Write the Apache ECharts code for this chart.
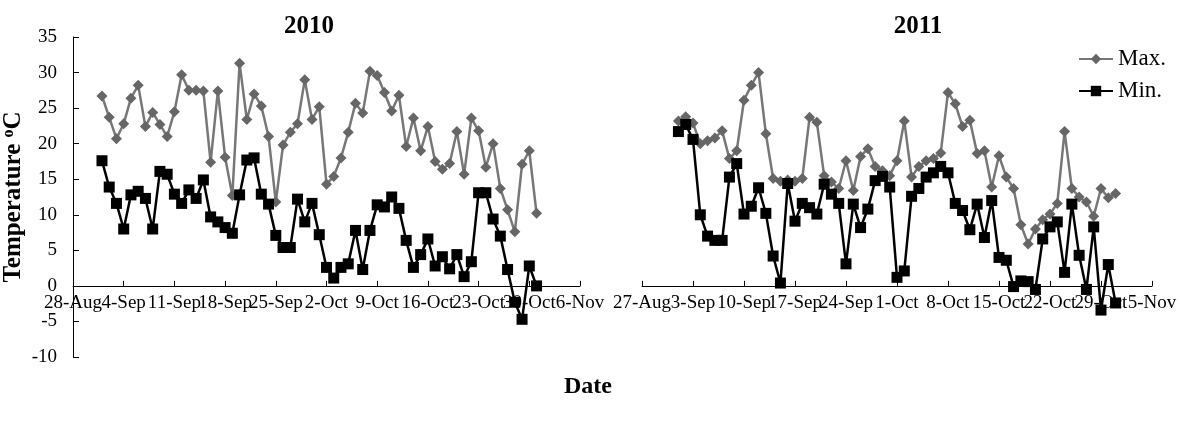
<!DOCTYPE html>
<html><head><meta charset="utf-8">
<script src="https://cdn.jsdelivr.net/npm/echarts@6/dist/echarts.min.js"></script>
<style>html,body{margin:0;padding:0;background:#fff}#c{width:1180px;height:421px}</style>
</head><body><div id="c"></div>
<script>
const ticks2010 = ['28-Aug','4-Sep','11-Sep','18-Sep','25-Sep','2-Oct','9-Oct','16-Oct','23-Oct','30-Oct','6-Nov'];
const ticks2011 = ['27-Aug','3-Sep','10-Sep','17-Sep','24-Sep','1-Oct','8-Oct','15-Oct','22-Oct','29-Oct','5-Nov'];
// day offset of 1-Sep from the first axis tick
const start2010 = 4;
const start2011 = 5;
const max2010 = [26.7,23.7,20.7,22.8,26.4,28.2,22.4,24.4,22.7,21.0,24.5,29.7,27.5,27.5,27.4,17.4,27.4,18.1,12.7,31.3,23.4,27.0,25.3,21.0,11.8,19.8,21.6,22.8,29.0,23.4,25.2,14.3,15.4,18.0,21.6,25.7,24.3,30.2,29.6,27.2,24.6,26.8,19.6,23.6,19.0,22.4,17.5,16.4,17.2,21.7,15.7,23.6,21.8,16.7,20.0,13.7,10.7,7.6,17.1,19.0,10.2];
const min2010 = [17.6,13.9,11.6,8.0,12.8,13.3,12.3,8.0,16.1,15.7,12.9,11.6,13.5,12.3,14.9,9.7,9.0,8.2,7.4,12.8,17.7,18.0,12.9,11.5,7.1,5.4,5.4,12.2,9.0,11.6,7.2,2.6,1.1,2.6,3.1,7.8,2.3,7.8,11.4,11.1,12.5,10.9,6.4,2.6,4.4,6.6,2.8,4.1,2.4,4.4,1.3,3.4,13.1,13.1,9.4,7.0,2.3,-2.3,-4.7,2.8,0.0];
const max2011 = [23.2,23.8,22.9,20.0,20.4,20.8,21.8,17.9,19.0,26.1,28.2,30.0,21.4,15.1,14.7,14.9,14.7,15.1,23.7,23.0,15.5,14.6,13.7,17.6,13.4,18.2,19.3,16.8,16.2,15.5,17.6,23.2,15.3,16.8,17.6,17.9,18.7,27.2,25.6,22.4,23.3,18.6,19.0,13.9,18.3,15.3,13.7,8.6,5.9,8.0,9.3,10.1,11.6,21.7,13.7,12.5,11.8,9.8,13.7,12.4,13.0];
const min2011 = [21.7,22.7,20.6,10.0,7.0,6.4,6.4,15.3,17.2,10.1,11.2,13.8,10.2,4.2,0.4,14.4,9.1,11.6,11.0,10.1,14.3,12.9,11.6,3.1,11.5,8.2,10.8,14.8,15.4,13.9,1.2,2.1,12.6,13.7,15.3,15.9,16.8,15.9,11.6,10.6,7.9,11.5,6.8,12.0,4.0,3.6,-0.1,0.7,0.6,-0.5,6.6,8.3,9.0,1.9,11.5,4.3,-0.5,8.3,-3.4,3.0,-2.4];
const yMin = -10, yMax = 35, yStep = 5, xSpan = 70, xStep = 7;

const F = 'Liberation Serif';
const toPairs = (start, arr) => arr.map((v, i) => [start + i, v]);
const gridTop = 37, gridH = 320;
// lift the date axis from the grid bottom up to the zero line
const zeroOffset = -gridH * (0 - yMin) / (yMax - yMin);

// hidden day-number axis used to place the daily points
function dayAxis(idx) {
  return {type: 'value', gridIndex: idx, min: 0, max: xSpan, interval: xStep, show: false, splitLine: {show: false}};
}
// visible weekly date axis (ticks every 7 days)
function dateAxis(idx, ticks) {
  return {
    type: 'category', gridIndex: idx, data: ticks, boundaryGap: false,
    position: 'bottom', offset: zeroOffset,
    axisLine: {onZero: false, lineStyle: {color: '#000', width: 1}},
    axisTick: {inside: true, length: 5, interval: 0, lineStyle: {color: '#000', width: 1}},
    axisLabel: {interval: 0, margin: 8, color: '#000', fontFamily: F, fontSize: 19},
    splitLine: {show: false}
  };
}

const maxStyle = {symbol: 'diamond', symbolSize: 11, lineStyle: {color: '#777777', width: 2.5}, itemStyle: {color: '#666666'}};
const minStyle = {symbol: 'rect', symbolSize: 11, lineStyle: {color: '#000000', width: 2.5}, itemStyle: {color: '#000000'}};

const chart = echarts.init(document.getElementById('c'));
chart.setOption({
  animation: false,
  backgroundColor: '#ffffff',
  grid: [
    {left: 73, top: gridTop, width: 507, height: gridH},
    {left: 642, top: gridTop, width: 510, height: gridH}
  ],
  xAxis: [dayAxis(0), dayAxis(1), dateAxis(0, ticks2010), dateAxis(1, ticks2011)],
  yAxis: [
    {type: 'value', gridIndex: 0, min: yMin, max: yMax, interval: yStep,
     axisLine: {show: true, onZero: false, lineStyle: {color: '#000', width: 1}},
     axisTick: {show: true, inside: true, length: 6, lineStyle: {color: '#000'}},
     axisLabel: {margin: 16, color: '#000', fontFamily: F, fontSize: 19},
     splitLine: {show: false},
     name: 'Temperature {s|o}C', nameLocation: 'middle', nameRotate: 90, nameGap: 46,
     nameTextStyle: {fontFamily: F, fontWeight: 'bold', fontSize: 25, color: '#000', lineHeight: 26,
       rich: {s: {fontFamily: F, fontWeight: 'bold', fontSize: 16, color: '#000', verticalAlign: 'top', lineHeight: 26}}}},
    {type: 'value', gridIndex: 1, min: yMin, max: yMax, interval: yStep, show: false, splitLine: {show: false}}
  ],
  legend: {
    orient: 'vertical', left: 1073, top: 42, itemWidth: 34, itemHeight: 13, itemGap: 8,
    textStyle: {fontFamily: F, fontSize: 23, color: '#000', lineHeight: 24},
    data: ['Max.', 'Min.']
  },
  graphic: [
    {type: 'text', x: 309, y: 27, style: {text: '2010', font: 'bold 25px "Liberation Serif"', fill: '#000', textAlign: 'center', textVerticalAlign: 'middle', align: 'center', verticalAlign: 'middle'}},
    {type: 'text', x: 918, y: 27, style: {text: '2011', font: 'bold 25px "Liberation Serif"', fill: '#000', textAlign: 'center', textVerticalAlign: 'middle', align: 'center', verticalAlign: 'middle'}},
    {type: 'text', x: 588, y: 387, style: {text: 'Date', font: 'bold 24px "Liberation Serif"', fill: '#000', textAlign: 'center', textVerticalAlign: 'middle', align: 'center', verticalAlign: 'middle'}}
  ],
  series: [
    Object.assign({name: 'Max.', type: 'line', xAxisIndex: 0, yAxisIndex: 0, data: toPairs(start2010, max2010)}, maxStyle),
    Object.assign({name: 'Min.', type: 'line', xAxisIndex: 0, yAxisIndex: 0, data: toPairs(start2010, min2010)}, minStyle),
    Object.assign({name: 'Max.', type: 'line', xAxisIndex: 1, yAxisIndex: 1, data: toPairs(start2011, max2011)}, maxStyle),
    Object.assign({name: 'Min.', type: 'line', xAxisIndex: 1, yAxisIndex: 1, data: toPairs(start2011, min2011)}, minStyle)
  ]
});
</script></body></html>
